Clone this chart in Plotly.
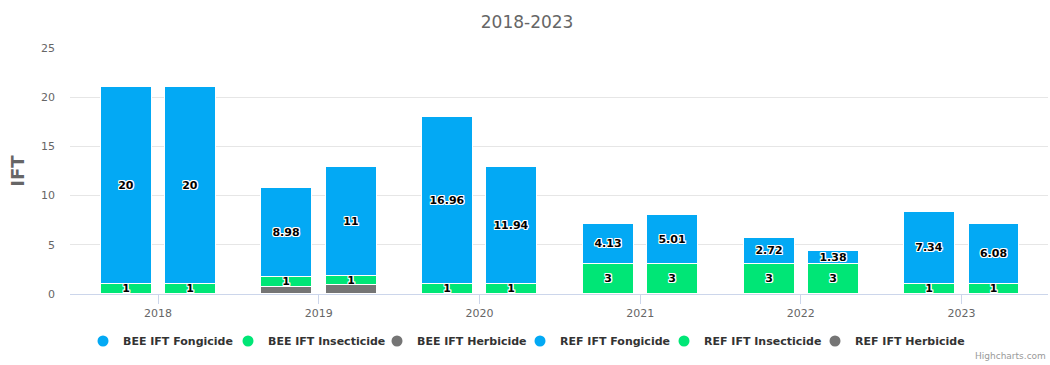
import plotly.graph_objects as go

# IFT per year, split by product type, for the BEE and REF groups
years = ["2018", "2019", "2020", "2021", "2022", "2023"]
bee_fongicide = [20, 8.98, 16.96, 4.13, 2.72, 7.34]
bee_insecticide = [1, 1, 1, 3, 3, 1]
bee_herbicide = [None, 0.76, None, None, None, None]
ref_fongicide = [20, 11, 11.94, 5.01, 1.38, 6.08]
ref_insecticide = [1, 1, 1, 3, 3, 1]
ref_herbicide = [None, 0.87, None, None, None, None]

BLUE = "#03a9f4"
GREEN = "#00e676"
GREY = "#757575"

BAR_W = 0.317
OFFSETS = {"BEE": -0.198, "REF": 0.202}

# plot area in pixels, used to place the legend entries
PLOT_L, PLOT_W = 70, 978
PLOT_B, PLOT_H = 294, 246

outline = ("1px 0 0 #fff, -1px 0 0 #fff, 0 1px 0 #fff, 0 -1px 0 #fff, "
           "1px 1px 0 #fff, -1px -1px 0 #fff, 1px -1px 0 #fff, -1px 1px 0 #fff")

fig = go.Figure()

groups = {
    "BEE": [("Herbicide", bee_herbicide, GREY, False),
            ("Insecticide", bee_insecticide, GREEN, True),
            ("Fongicide", bee_fongicide, BLUE, True)],
    "REF": [("Herbicide", ref_herbicide, GREY, False),
            ("Insecticide", ref_insecticide, GREEN, True),
            ("Fongicide", ref_fongicide, BLUE, True)],
}

for grp, series in groups.items():
    xs = [i + OFFSETS[grp] for i in range(len(years))]
    for kind, vals, color, labelled in series:
        text = [("" if v is None else f"{v:g}") for v in vals] if labelled else None
        fig.add_trace(go.Bar(
            x=xs, y=vals, width=BAR_W,
            name=f"{grp} IFT {kind}",
            marker=dict(color=color, line=dict(color="#ffffff", width=1)),
            text=text,
            textposition="inside" if labelled else "none",
            insidetextanchor="middle",
            textangle=0,
            constraintext="none",
            textfont=dict(family="DejaVu Sans", size=11, color="#000000",
                          weight="bold", shadow=outline),
            showlegend=False,
            hoverinfo="skip",
        ))

# Legend entries with round symbols, one small legend per entry
legend_items = [
    ("BEE IFT Fongicide", BLUE, 103),
    ("BEE IFT Insecticide", GREEN, 248),
    ("BEE IFT Herbicide", GREY, 397),
    ("REF IFT Fongicide", BLUE, 540),
    ("REF IFT Insecticide", GREEN, 684),
    ("REF IFT Herbicide", GREY, 835),
]
legend_layouts = {}
for k, (name, color, cx) in enumerate(legend_items):
    key = "legend" if k == 0 else f"legend{k + 1}"
    fig.add_trace(go.Scatter(
        x=[None], y=[None], mode="markers",
        name=name,
        marker=dict(symbol="circle", size=11, color=color),
        showlegend=True,
        legend=key,
    ))
    legend_layouts[key] = dict(
        x=(cx - 20 - PLOT_L) / PLOT_W, xanchor="left",
        y=(PLOT_B - 341) / PLOT_H, yanchor="middle",
        bgcolor="rgba(0,0,0,0)", borderwidth=0,
        font=dict(family="DejaVu Sans", size=11, color="#333333", weight="bold"),
        itemclick=False, itemdoubleclick=False,
        tracegroupgap=0,
    )

fig.update_layout(
    width=1050, height=365,
    barmode="stack",
    bargap=0,
    plot_bgcolor="#ffffff",
    paper_bgcolor="#ffffff",
    margin=dict(l=PLOT_L, r=1050 - PLOT_L - PLOT_W, t=PLOT_B - PLOT_H, b=365 - PLOT_B,
                autoexpand=False),
    font=dict(family="DejaVu Sans", color="#666666"),
    title=dict(text="2018-2023", x=0.502, xanchor="center", y=0.94, yanchor="middle",
               font=dict(size=17, color="#666666")),
    xaxis=dict(
        range=[-0.548, 5.538],
        tickvals=list(range(len(years))),
        ticktext=years,
        showgrid=False, zeroline=False,
        showline=True, linecolor="#ccd6eb", linewidth=1,
        ticks="outside", ticklen=9, tickcolor="#ccd6eb",
        tickfont=dict(size=11, color="#666666"),
    ),
    yaxis=dict(
        range=[0, 25],
        tickvals=[0, 5, 10, 15, 20, 25],
        showgrid=True, gridcolor="#e6e6e6", gridwidth=1,
        zeroline=False,
        ticks="", ticklabelstandoff=14,
        tickfont=dict(size=11, color="#666666"),
        title=dict(text="<b>IFT</b>", font=dict(size=18, color="#666666"), standoff=11),
    ),
    annotations=[dict(
        text="Highcharts.com", x=1.0, xref="paper", xanchor="right",
        y=(PLOT_B - 356) / PLOT_H, yref="paper", yanchor="middle", showarrow=False,
        font=dict(size=9, color="#999999"),
    )],
    **legend_layouts,
)

fig.write_html("out.html")
